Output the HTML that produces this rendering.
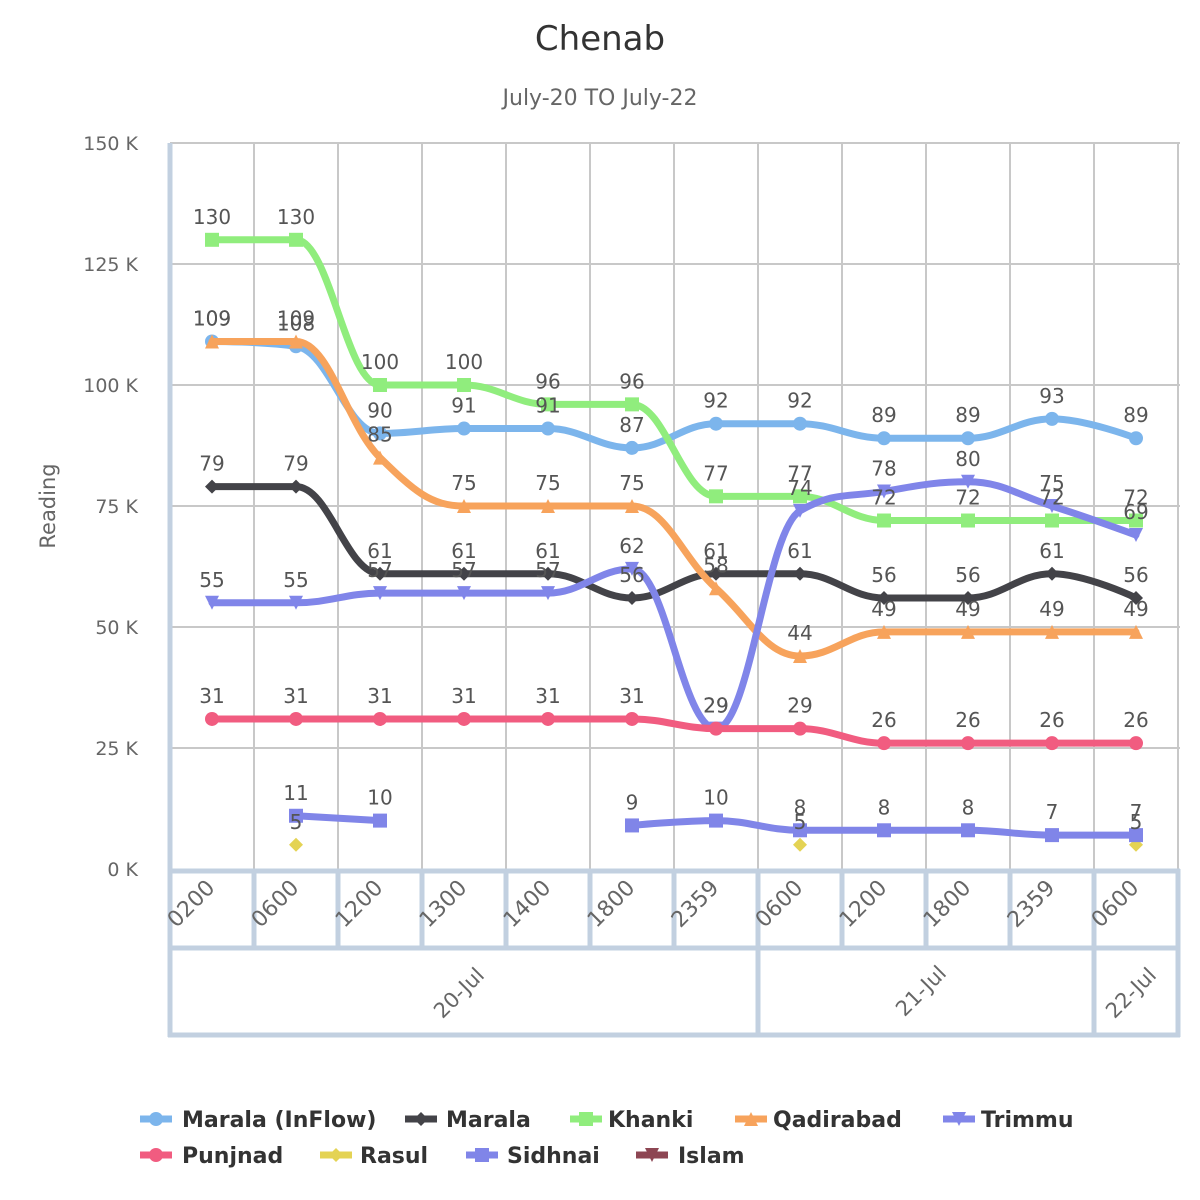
<!DOCTYPE html>
<html><head><meta charset="utf-8"><style>
html,body{margin:0;padding:0;background:#fff;}
svg{display:block;font-family:"DejaVu Sans","Liberation Sans",sans-serif;}
</style></head><body>
<svg id="c" width="1200" height="1200" xmlns="http://www.w3.org/2000/svg">
<rect width="1200" height="1200" fill="#fff"/>
<text x="600" y="50" text-anchor="middle" font-size="34" fill="#333">Chenab</text>
<text x="600" y="105" text-anchor="middle" font-size="22" fill="#666">July-20 TO July-22</text>
<g id="grid"></g>
<g id="series"></g>
<g id="labels"></g>
<g id="legend"></g>
</svg>
<script>
const NS="http://www.w3.org/2000/svg";
function el(p,t,a,txt){const e=document.createElementNS(NS,t);for(const k in a)e.setAttribute(k,a[k]);if(txt!==undefined)e.textContent=txt;p.appendChild(e);return e;}
const G=document.getElementById('grid'),S=document.getElementById('series'),L=document.getElementById('labels'),LG=document.getElementById('legend');
const X0=170,DX=84,Y0=869,K=4.84;
const xs=i=>X0+DX/2+i*DX, ys=v=>Y0-v*K;
for(let v=0;v<=150;v+=25){const y=ys(v);if(v>0)el(G,'line',{x1:170,x2:1180,y1:y,y2:y,stroke:'#c8c8c8','stroke-width':2});
el(G,'text',{x:138,y:y+7,'text-anchor':'end','font-size':19,fill:'#666'},v+' K');}
for(let i=1;i<=12;i++){const x=X0+i*DX;el(G,'line',{x1:x,x2:x,y1:143,y2:869,stroke:'#c8c8c8','stroke-width':2});}
el(G,'text',{x:0,y:0,transform:'translate(55,506) rotate(-90)','text-anchor':'middle','font-size':21,fill:'#666'},'Reading');
const B='#c2d0e0';
el(G,'line',{x1:170,x2:170,y1:143,y2:1037,stroke:B,'stroke-width':5});
el(G,'line',{x1:168,x2:1180,y1:871,y2:871,stroke:B,'stroke-width':5});
el(G,'line',{x1:168,x2:1180,y1:948,y2:948,stroke:B,'stroke-width':5});
el(G,'line',{x1:168,x2:1180,y1:1035,y2:1035,stroke:B,'stroke-width':5});
for(let i=1;i<=12;i++){const x=X0+i*DX;el(G,'line',{x1:x,x2:x,y1:869,y2:948,stroke:B,'stroke-width':5});}
el(G,'line',{x1:758,x2:758,y1:948,y2:1037,stroke:B,'stroke-width':5});
el(G,'line',{x1:1094,x2:1094,y1:948,y2:1037,stroke:B,'stroke-width':5});
el(G,'line',{x1:1178,x2:1178,y1:869,y2:1037,stroke:B,'stroke-width':5});
const cats=['0200','0600','1200','1300','1400','1800','2359','0600','1200','1800','2359','0600'];
cats.forEach((c,i)=>{const x=xs(i)+4,y=889;el(G,'text',{x:x,y:y,transform:`rotate(-45 ${x} ${y})`,'text-anchor':'end','font-size':22,fill:'#666'},c);});
[['20-Jul',464,998],['21-Jul',926,996],['22-Jul',1136,998]].forEach(d=>{el(G,'text',{x:d[1],y:d[2],transform:`rotate(-45 ${d[1]} ${d[2]})`,'text-anchor':'middle','font-size':21,fill:'#666'},d[0]);});
const data=[
['Marala (InFlow)','#7cb5ec','circle',[109,108,90,91,91,87,92,92,89,89,93,89]],
['Marala','#434348','diamond',[79,79,61,61,61,56,61,61,56,56,61,56]],
['Khanki','#90ed7d','square',[130,130,100,100,96,96,77,77,72,72,72,72]],
['Qadirabad','#f7a35c','triangle',[109,109,85,75,75,75,58,44,49,49,49,49]],
['Trimmu','#8085e9','tdown',[55,55,57,57,57,62,29,74,78,80,75,69]],
['Punjnad','#f15c80','circle',[31,31,31,31,31,31,29,29,26,26,26,26]],
['Rasul','#e4d354','diamond',[null,5,null,null,null,null,null,5,null,null,null,5]],
['Sidhnai','#8085e8','square',[null,11,10,null,null,9,10,8,8,8,7,7]],
['Islam','#8d4653','tdown',[]]];
function marker(p,t,x,y,col,r){
 if(t=='circle')el(p,'circle',{cx:x,cy:y,r:r,fill:col});
 else if(t=='square')el(p,'rect',{x:x-r,y:y-r,width:2*r,height:2*r,fill:col});
 else if(t=='diamond')el(p,'path',{d:`M${x} ${y-r}L${x+r} ${y}L${x} ${y+r}L${x-r} ${y}Z`,fill:col});
 else if(t=='triangle')el(p,'path',{d:`M${x} ${y-r}L${x+r} ${y+r}L${x-r} ${y+r}Z`,fill:col});
 else el(p,'path',{d:`M${x-r} ${y-r}L${x+r} ${y-r}L${x} ${y+r}Z`,fill:col});
}
function spline(pts){
 const sm=1.5,den=2.5;let d='M'+pts[0][0]+' '+pts[0][1];
 const cs=pts.map((p,i)=>{if(i==0||i==pts.length-1)return[p,p];
  const l=pts[i-1],n=pts[i+1];let lx=(sm*p[0]+l[0])/den,ly=(sm*p[1]+l[1])/den,rx=(sm*p[0]+n[0])/den,ry=(sm*p[1]+n[1])/den;
  if(rx!==lx){const c=((ry-ly)*(rx-p[0]))/(rx-lx)+p[1]-ry;ly+=c;ry+=c;}
  if(ly>Math.max(l[1],p[1])){ly=Math.max(l[1],p[1]);ry=2*p[1]-ly;}else if(ly<Math.min(l[1],p[1])){ly=Math.min(l[1],p[1]);ry=2*p[1]-ly;}
  if(ry>Math.max(n[1],p[1])){ry=Math.max(n[1],p[1]);ly=2*p[1]-ry;}else if(ry<Math.min(n[1],p[1])){ry=Math.min(n[1],p[1]);ly=2*p[1]-ry;}
  return[[lx,ly],[rx,ry]];});
 for(let i=1;i<pts.length;i++){const a=cs[i-1][1],b=cs[i][0];d+=`C${a[0]} ${a[1]} ${b[0]} ${b[1]} ${pts[i][0]} ${pts[i][1]}`;}
 return d;}
data.forEach(s=>{
 const [name,col,m,vals]=s;let seg=[];const segs=[];
 vals.forEach((v,i)=>{if(v===null){if(seg.length)segs.push(seg);seg=[];}else seg.push([xs(i),ys(v)]);});
 if(seg.length)segs.push(seg);
 if(name!=='Rasul')segs.forEach(sg=>{if(sg.length>1)el(S,'path',{d:spline(sg),fill:'none',stroke:col,'stroke-width':7,'stroke-linejoin':'round','stroke-linecap':'round'});});
 vals.forEach((v,i)=>{if(v===null)return;marker(S,m,xs(i),ys(v),col,7);
  el(L,'text',{x:xs(i),y:ys(v)-16,'text-anchor':'middle','font-size':20,fill:'#555'},String(v));});
});
const lg=[[0,140,182],[1,405,446],[2,570,608],[3,735,773],[4,943,981],[5,140,182],[6,320,360],[7,466,507],[8,636,678]];
lg.forEach(l=>{const s=data[l[0]];const y=l[0]<5?1119:1155;
 el(LG,'line',{x1:l[1],x2:l[1]+32,y1:y,y2:y,stroke:s[1],'stroke-width':7});
 marker(LG,s[2],l[1]+16,y,s[1],7);
 el(LG,'text',{x:l[2],y:y+8,'font-size':22,'font-weight':'bold',fill:'#333'},s[0]);});
</script>
</body></html>
